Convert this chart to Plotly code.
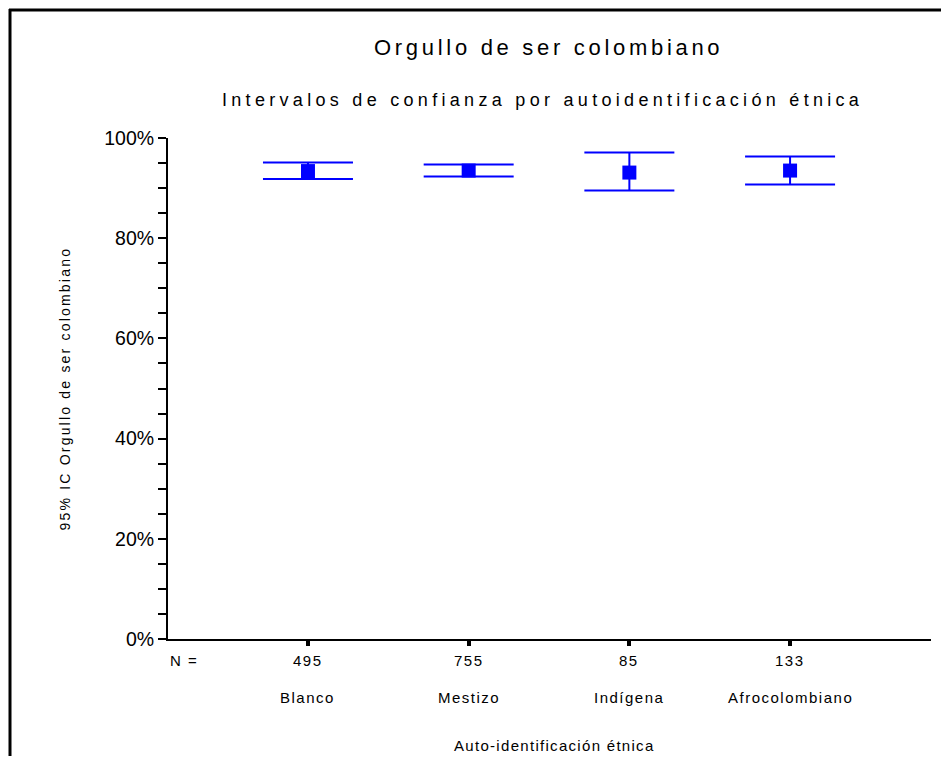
import plotly.graph_objects as go

# data (proportions)
categorias = ["Blanco", "Mestizo", "Indígena", "Afrocolombiano"]
n_casos = [495, 755, 85, 133]
media = [0.934, 0.935, 0.931, 0.935]
limite_inf = [0.918, 0.923, 0.895, 0.907]
limite_sup = [0.951, 0.947, 0.971, 0.963]

y_ticks = [0, 0.2, 0.4, 0.6, 0.8, 1.0]

FONT = "Liberation Sans, Arial, sans-serif"
AZUL = "#0000FF"

# the page body has an 8px margin, so the figure is shrunk and everything
# below is given in window pixels and shifted by OFF
OFF = 8
W, H = 950 - 2 * OFF, 765 - 2 * OFF
PLOT_TOP, PLOT_BOT = 138, 639
PLOT_L, PLOT_R = 168, 931


def spaced(txt, ls):
    return f'<span style="letter-spacing:{ls}px">{txt}</span>'


def py(Y):
    return (PLOT_BOT - Y) / (PLOT_BOT - PLOT_TOP)


def px(X):
    return (X - PLOT_L) / (PLOT_R - PLOT_L)


err_up = [s - m for s, m in zip(limite_sup, media)]
err_dn = [m - i for m, i in zip(media, limite_inf)]

fig = go.Figure()
fig.add_trace(go.Scatter(
    x=categorias, y=media, mode="markers",
    marker=dict(symbol="square", size=14, color=AZUL, line=dict(width=0)),
    error_y=dict(type="data", symmetric=False, array=err_up, arrayminus=err_dn,
                 color=AZUL, thickness=2, width=45),
    showlegend=False,
))

annotations = [dict(x=0, y=py(660), xref="paper", yref="paper", text=spaced("N =", 1.5),
                    showarrow=False, font=dict(size=15), yanchor="middle")]
for cat, n in zip(categorias, n_casos):
    annotations.append(dict(x=cat, y=py(660), xref="x", yref="paper", text=spaced(str(n), 1.5),
                            showarrow=False, font=dict(size=15), yanchor="middle"))
    annotations.append(dict(x=cat, y=py(697), xref="x", yref="paper", text=spaced(cat, 1.5),
                            showarrow=False, font=dict(size=15), yanchor="middle"))

annotations += [
    dict(x=px(548), y=py(47), xref="paper", yref="paper", showarrow=False,
         text=spaced("Orgullo de ser colombiano", 3.7), font=dict(size=22), yanchor="middle"),
    dict(x=px(542), y=py(100), xref="paper", yref="paper", showarrow=False,
         text=spaced("Intervalos de confianza por autoidentificación étnica", 4.3),
         font=dict(size=18), yanchor="middle"),
    dict(x=px(554), y=py(745), xref="paper", yref="paper", showarrow=False,
         text=spaced("Auto-identificación étnica", 1.3), font=dict(size=15), yanchor="middle"),
    dict(x=px(64), y=0.5, xref="paper", yref="paper", showarrow=False, textangle=-90,
         text=spaced("95% IC Orgullo de ser colombiano", 2.2), font=dict(size=14),
         xanchor="center", yanchor="middle"),
]

# frame: top and left edges only, kept inside the figure
shapes = [
    dict(type="line", xref="paper", yref="paper", x0=px(9), x1=px(941), y0=py(10), y1=py(10),
         line=dict(color="black", width=3)),
    dict(type="line", xref="paper", yref="paper", x0=px(10), x1=px(10), y0=py(9), y1=py(756),
         line=dict(color="black", width=3)),
]

fig.update_layout(
    width=W, height=H,
    margin=dict(l=PLOT_L - OFF, r=W - (PLOT_R - OFF), t=PLOT_TOP - OFF, b=H - (PLOT_BOT - OFF)),
    paper_bgcolor="white", plot_bgcolor="white",
    font=dict(family=FONT, color="black"),
    annotations=annotations, shapes=shapes,
    xaxis=dict(
        range=[-0.871, 3.877], showgrid=False, zeroline=False,
        showline=True, linecolor="black", linewidth=2,
        ticks="outside", ticklen=5, tickwidth=4, tickcolor="black",
        showticklabels=False,
    ),
    yaxis=dict(
        range=[0, 1], showgrid=False, zeroline=False,
        showline=True, linecolor="black", linewidth=2,
        tickvals=y_ticks, tickformat=".0%",
        ticks="outside", ticklen=8, tickwidth=2, tickcolor="black",
        tickfont=dict(size=19.5),
        minor=dict(dtick=0.05, ticks="outside", ticklen=8, tickwidth=1.5, tickcolor="black"),
    ),
)

fig.write_html("out.html")
